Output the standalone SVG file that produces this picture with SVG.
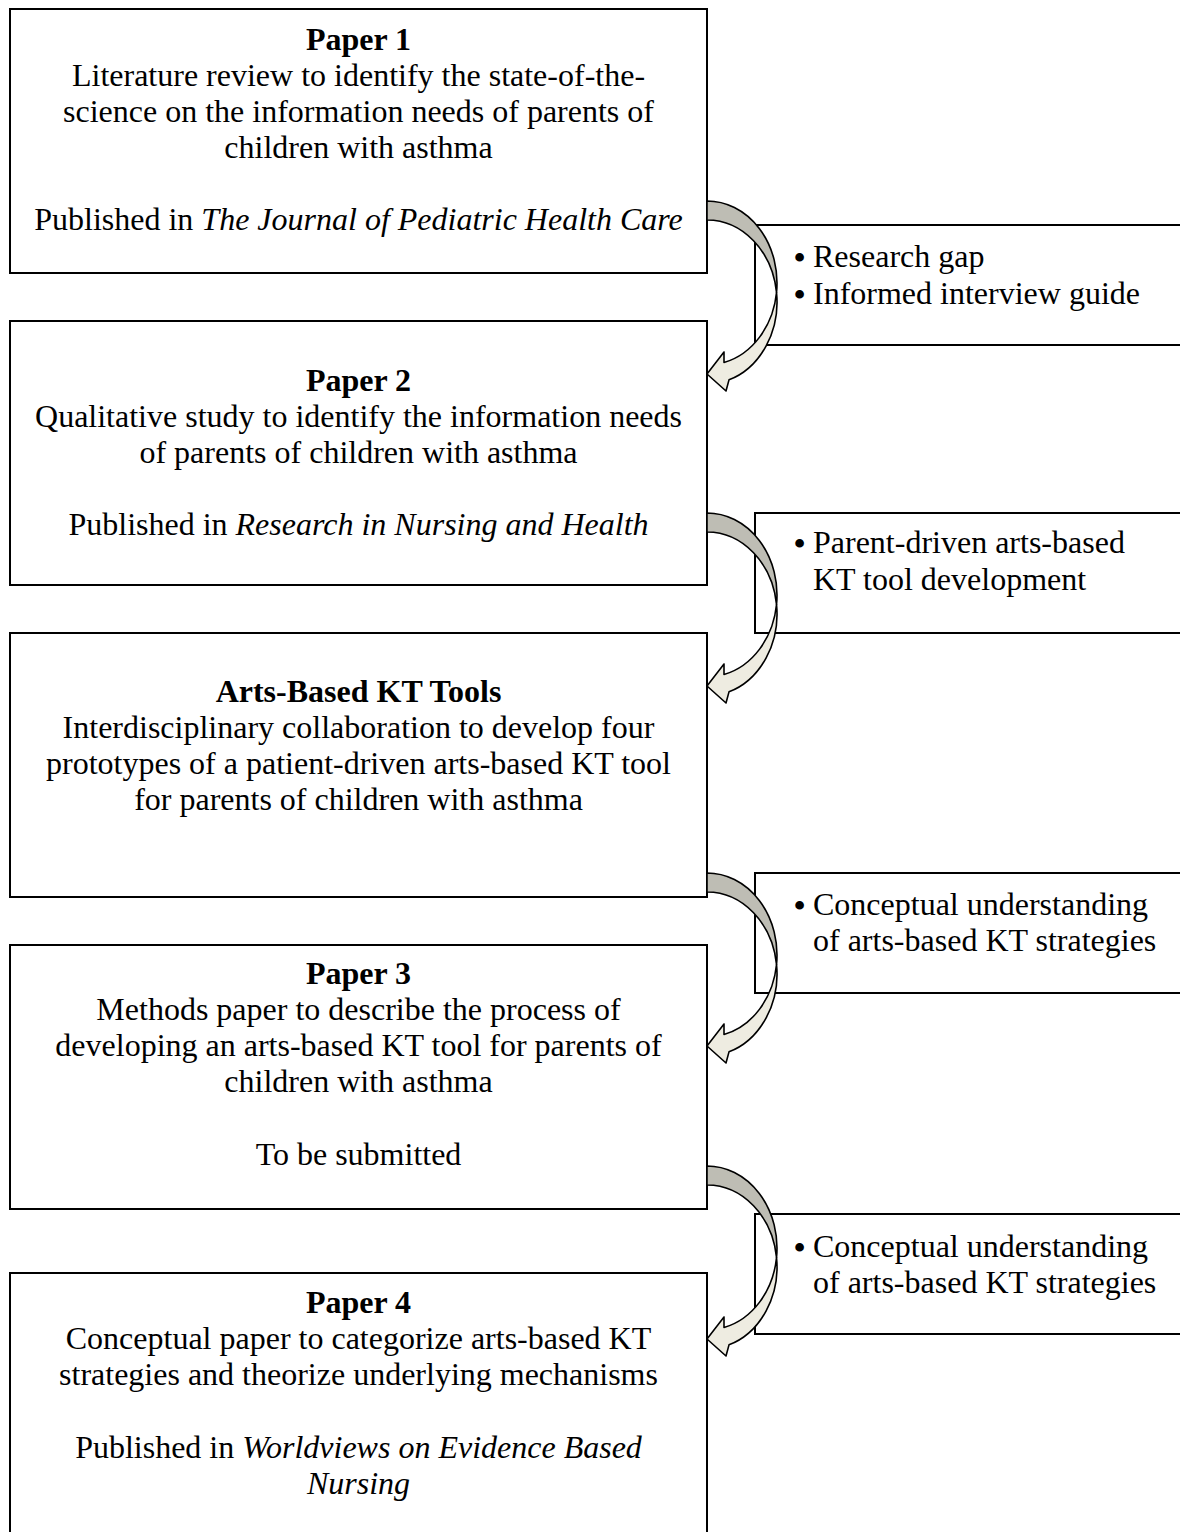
<svg xmlns="http://www.w3.org/2000/svg" xmlns:xlink="http://www.w3.org/1999/xlink" width="1180" height="1532" viewBox="0 0 1180 1532">
<style>
  .box { fill: #ffffff; stroke: #000000; stroke-width: 2; }
  .t { font-family: "Liberation Serif", "Times New Roman", serif; font-size: 32px; fill: #000000; }
  .c { text-anchor: middle; }
  .b { font-weight: bold; }
  .i { font-style: italic; }
  .bul { font-weight: bold; }
  .dark { fill: #bebdb4; stroke: #000000; stroke-width: 1.6; stroke-linejoin: round; }
  .light { fill: #eeece1; stroke: #000000; stroke-width: 1.6; stroke-linejoin: round; }
</style>
<defs>
  <g id="curvedArrow">
    <path class="dark" d="M0,0 A70,82 0 0,1 69.53,91.5 A70,82 0 0,0 0,19 Z"/>
    <path class="light" d="M69.53,91.5 A70,82 0 0,1 22,178.85 L19,190 L0,173 L17,151 L17,161.55 A70,82 0 0,0 69.53,91.5 Z"/>
  </g>
</defs>
<rect width="1180" height="1532" fill="#ffffff"/>

<g id="paper1">
  <rect class="box" x="10" y="9" width="697" height="264"/>
  <text class="t c b" x="358.5" y="49.5">Paper 1</text>
  <text class="t c" x="358.5" y="85.5">Literature review to identify the state-of-the-</text>
  <text class="t c" x="358.5" y="121.5">science on the information needs of parents of</text>
  <text class="t c" x="358.5" y="157.5">children with asthma</text>
  <text class="t c" x="358.5" y="229.5">Published in <tspan class="i">The Journal of Pediatric Health Care</tspan></text>
</g>

<g id="paper2">
  <rect class="box" x="10" y="321" width="697" height="264"/>
  <text class="t c b" x="358.5" y="390.5">Paper 2</text>
  <text class="t c" x="358.5" y="426.5">Qualitative study to identify the information needs</text>
  <text class="t c" x="358.5" y="462.5">of parents of children with asthma</text>
  <text class="t c" x="358.5" y="535">Published in <tspan class="i">Research in Nursing and Health</tspan></text>
</g>

<g id="artsBasedTools">
  <rect class="box" x="10" y="633" width="697" height="264"/>
  <text class="t c b" x="358.5" y="702">Arts-Based KT Tools</text>
  <text class="t c" x="358.5" y="738">Interdisciplinary collaboration to develop four</text>
  <text class="t c" x="358.5" y="774">prototypes of a patient-driven arts-based KT tool</text>
  <text class="t c" x="358.5" y="810">for parents of children with asthma</text>
</g>

<g id="paper3">
  <rect class="box" x="10" y="945" width="697" height="264"/>
  <text class="t c b" x="358.5" y="984">Paper 3</text>
  <text class="t c" x="358.5" y="1020">Methods paper to describe the process of</text>
  <text class="t c" x="358.5" y="1056">developing an arts-based KT tool for parents of</text>
  <text class="t c" x="358.5" y="1092">children with asthma</text>
  <text class="t c" x="358.5" y="1165">To be submitted</text>
</g>

<g id="paper4">
  <rect class="box" x="10" y="1273" width="697" height="280"/>
  <text class="t c b" x="358.5" y="1313">Paper 4</text>
  <text class="t c" x="358.5" y="1349">Conceptual paper to categorize arts-based KT</text>
  <text class="t c" x="358.5" y="1385">strategies and theorize underlying mechanisms</text>
  <text class="t c" x="358.5" y="1458">Published in <tspan class="i">Worldviews on Evidence Based</tspan></text>
  <text class="t c i" x="358.5" y="1494">Nursing</text>
</g>

<g id="note1">
  <rect class="box" x="755" y="225" width="440" height="120"/>
  <text class="t"><tspan class="bul" x="794" y="267.5">•</tspan><tspan x="813" y="266.5">Research gap</tspan></text>
  <text class="t"><tspan class="bul" x="794" y="304.5">•</tspan><tspan x="813" y="303.5">Informed interview guide</tspan></text>
</g>

<g id="note2">
  <rect class="box" x="755" y="513" width="440" height="120"/>
  <text class="t"><tspan class="bul" x="794" y="554">•</tspan><tspan x="813" y="553">Parent-driven arts-based</tspan><tspan x="813" y="590">KT tool development</tspan></text>
</g>

<g id="note3">
  <rect class="box" x="755" y="873" width="440" height="120"/>
  <text class="t"><tspan class="bul" x="794" y="915.5">•</tspan><tspan x="813" y="914.5">Conceptual understanding</tspan><tspan x="813" y="951">of arts-based KT strategies</tspan></text>
</g>

<g id="note4">
  <rect class="box" x="755" y="1214" width="440" height="120"/>
  <text class="t"><tspan class="bul" x="794" y="1257.5">•</tspan><tspan x="813" y="1256.5">Conceptual understanding</tspan><tspan x="813" y="1292.5">of arts-based KT strategies</tspan></text>
</g>

<g id="connectors">
  <use xlink:href="#curvedArrow" href="#curvedArrow" transform="translate(707,201)"/>
  <use xlink:href="#curvedArrow" href="#curvedArrow" transform="translate(707,513)"/>
  <use xlink:href="#curvedArrow" href="#curvedArrow" transform="translate(707,873)"/>
  <use xlink:href="#curvedArrow" href="#curvedArrow" transform="translate(707,1166)"/>
</g>
</svg>
